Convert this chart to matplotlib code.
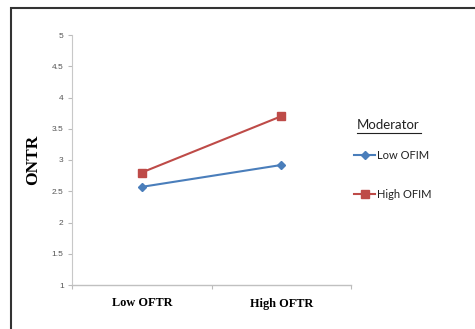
import matplotlib
matplotlib.use("Agg")
import matplotlib.pyplot as plt
from matplotlib.lines import Line2D
from matplotlib.patches import Rectangle

categories = ["Low OFTR", "High OFTR"]
low_ofim = [2.57, 2.92]
high_ofim = [2.80, 3.70]
series_names = ["Low OFIM", "High OFIM"]
y_ticks = [1, 1.5, 2, 2.5, 3, 3.5, 4, 4.5, 5]
y_tick_labels = ["1", "1.5", "2", "2.5", "3", "3.5", "4", "4.5", "5"]

blue = "#4a7ebb"
red = "#be4b48"

fig = plt.figure(figsize=(4.75, 3.29), dpi=100)
ax = fig.add_axes([72/475, 1-285/329, (351-72)/475, (285-35)/329])

x = list(range(len(categories)))
l1, = ax.plot(x, low_ofim, color=blue, lw=1.5, marker="D", ms=4.5, label=series_names[0])
l2, = ax.plot(x, high_ofim, color=red, lw=1.5, marker="s", ms=5.5, label=series_names[1])

ax.set_xlim(-0.5, 1.5)
ax.set_ylim(1, 5)
ax.set_yticks(y_ticks)
ax.set_yticklabels(y_tick_labels, fontsize=6, color="#555555", family="Liberation Sans")
ax.set_xticks(x)
ax.set_xticklabels(categories, fontsize=8.8, fontweight="bold", family="Liberation Serif")
ax.tick_params(axis="x", length=0, pad=9)
ax.set_xticks([-0.5, 0.5, 1.5], minor=True)
ax.tick_params(axis="x", which="minor", length=3, color="#bbbbbb", width=0.8)
ax.tick_params(axis="y", length=3, color="#bbbbbb", width=0.8, pad=3)
for s in ["top", "right"]:
    ax.spines[s].set_visible(False)
ax.spines["left"].set_color("#c8c8c8")
ax.spines["bottom"].set_color("#c0c0c0")
ax.spines["left"].set_linewidth(0.8)
ax.spines["bottom"].set_linewidth(1.0)

ax.set_ylabel("ONTR", fontsize=12.5, fontweight="bold", family="Liberation Serif", labelpad=8)

# Legend
fig.text(357/475, 1-125/329, "Moderator", fontsize=9.5, family="Lato", color="#222222", va="center", ha="left")
fig.add_artist(Line2D([357/475, 421/475], [1-133/329, 1-133/329], color="#222222", lw=0.8))
leg = fig.legend(handles=[l1, l2], loc="upper left", bbox_to_anchor=(354/475, 1-150/329),
                 frameon=False, prop={"family": "Lato", "size": 8}, labelspacing=2.5,
                 handlelength=1.9, handletextpad=0.15, borderaxespad=0, borderpad=0)
for t in leg.get_texts():
    t.set_color("#222222")

# outer border
fig.add_artist(Rectangle((11/475, -0.1), 1.2, 1 - 8/329 + 0.1, transform=fig.transFigure,
                         fill=False, edgecolor="#333333", lw=1.5))

fig.savefig("out.png", dpi=100)
